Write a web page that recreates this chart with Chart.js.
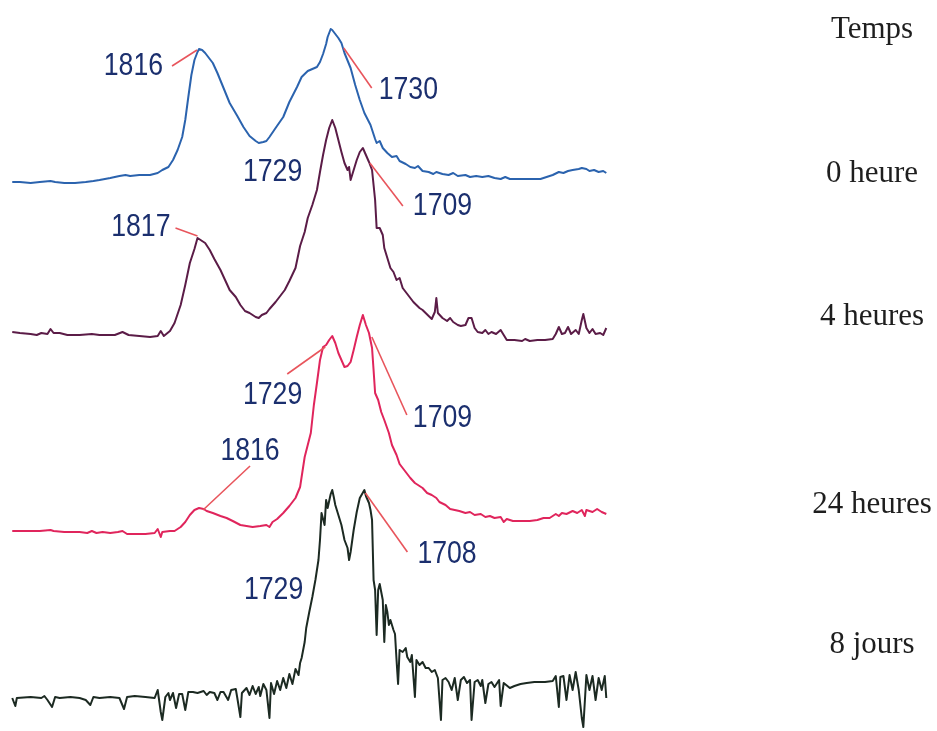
<!DOCTYPE html>
<html lang="fr">
<head>
<meta charset="utf-8">
<title>Spectres IR - évolution dans le temps</title>
<script src="https://cdn.jsdelivr.net/npm/chart.js@4.4.1/dist/chart.umd.min.js"></script>
<style>
  html, body { margin: 0; padding: 0; background: #ffffff; }
  #wrap { width: 937px; height: 731px; position: relative; }
  canvas { display: block; }
</style>
</head>
<body>
<div id="wrap"><canvas id="ir" width="937" height="731"></canvas></div>
<script>
// Spectres IR (zone carbonyle), nombre d'onde en cm-1 et absorbance relative (u.a.)
const wnRange = [1946, 1334];          // bornes de l'axe des nombres d'onde (décroissant)
const timeTitle = 'Temps';
const timeLabels = ['0 heure', '4 heures', '24 heures', '8 jours'];

const spec0h = [
  [1938,0.00],[1933,0.00],[1926,-0.01],[1920,0.00],[1913,0.01],[1910,0.00],[1904,-0.01],[1897,-0.01],
  [1890,0.00],[1885,0.01],[1881,0.02],[1874,0.04],[1868,0.06],[1864,0.07],[1861,0.06],[1855,0.07],
  [1848,0.07],[1843,0.09],[1840,0.12],[1836,0.15],[1833,0.22],[1830,0.32],[1827,0.45],[1825,0.62],
  [1823,0.85],[1821,1.07],[1819,1.22],[1817,1.30],[1816,1.33],[1814,1.32],[1812,1.29],[1810,1.25],
  [1807,1.19],[1804,1.09],[1800,0.94],[1796,0.79],[1791,0.66],[1787,0.55],[1783,0.46],[1779,0.41],
  [1777,0.39],[1774,0.40],[1772,0.41],[1770,0.45],[1766,0.54],[1761,0.65],[1757,0.80],[1752,0.95],
  [1749,1.05],[1745,1.11],[1742,1.13],[1739,1.15],[1737,1.20],[1735,1.28],[1733,1.38],[1732,1.45],
  [1730,1.53],[1729,1.52],[1727,1.48],[1725,1.44],[1723,1.39],[1721,1.29],[1717,1.14],[1714,0.97],
  [1711,0.82],[1708,0.69],[1704,0.57],[1701,0.43],[1700,0.39],[1698,0.41],[1696,0.34],[1693,0.29],
  [1690,0.25],[1687,0.26],[1685,0.21],[1681,0.18],[1678,0.15],[1675,0.14],[1673,0.16],[1670,0.11],
  [1666,0.10],[1663,0.08],[1661,0.10],[1657,0.08],[1653,0.07],[1650,0.09],[1647,0.06],[1642,0.07],
  [1639,0.05],[1635,0.06],[1631,0.05],[1627,0.06],[1623,0.04],[1619,0.03],[1616,0.05],[1613,0.03],
  [1606,0.03],[1600,0.03],[1593,0.03],[1589,0.05],[1585,0.07],[1581,0.10],[1578,0.09],[1575,0.11],
  [1572,0.12],[1568,0.13],[1566,0.14],[1563,0.13],[1561,0.11],[1558,0.12],[1555,0.10],[1552,0.11],
  [1550,0.09]
];

const spec4h = [
  [1938,0.03],[1933,0.02],[1926,0.01],[1922,0.00],[1919,0.02],[1915,0.01],[1913,0.06],[1911,0.02],
  [1907,0.02],[1902,0.00],[1894,0.00],[1886,0.01],[1881,0.00],[1871,0.00],[1866,0.03],[1862,0.00],
  [1855,-0.01],[1848,-0.02],[1843,-0.01],[1841,0.04],[1839,-0.01],[1835,0.04],[1832,0.12],[1828,0.30],
  [1825,0.50],[1822,0.72],[1819,0.86],[1817,0.97],[1815,0.95],[1812,0.92],[1809,0.85],[1806,0.76],
  [1802,0.65],[1799,0.55],[1796,0.45],[1792,0.38],[1789,0.30],[1786,0.24],[1783,0.22],[1779,0.18],
  [1777,0.17],[1775,0.20],[1772,0.22],[1770,0.26],[1766,0.33],[1763,0.39],[1760,0.45],[1757,0.54],
  [1753,0.67],[1750,0.89],[1747,1.03],[1745,1.17],[1742,1.30],[1739,1.45],[1737,1.63],[1735,1.80],
  [1733,1.95],[1731,2.07],[1729,2.15],[1727,2.07],[1725,1.95],[1723,1.83],[1721,1.72],[1719,1.65],
  [1718,1.68],[1717,1.55],[1715,1.65],[1713,1.75],[1711,1.83],[1709,1.87],[1707,1.80],[1705,1.73],
  [1703,1.65],[1701,1.35],[1700,1.07],[1698,1.07],[1696,1.00],[1695,0.87],[1693,0.77],[1691,0.67],
  [1689,0.63],[1687,0.55],[1685,0.57],[1683,0.47],[1680,0.41],[1678,0.37],[1676,0.33],[1674,0.30],
  [1672,0.27],[1670,0.25],[1668,0.22],[1666,0.19],[1664,0.16],[1662,0.23],[1661,0.37],[1660,0.22],
  [1657,0.17],[1654,0.14],[1652,0.17],[1650,0.13],[1647,0.10],[1645,0.09],[1642,0.10],[1640,0.17],
  [1638,0.17],[1636,0.07],[1634,0.03],[1631,0.02],[1629,0.05],[1627,0.01],[1625,0.03],[1622,0.01],
  [1619,0.05],[1617,0.00],[1615,-0.05],[1610,-0.05],[1605,-0.06],[1603,-0.04],[1600,-0.06],[1595,-0.05],
  [1590,-0.05],[1585,-0.04],[1583,0.01],[1581,0.08],[1579,0.01],[1577,0.02],[1575,0.08],[1573,0.01],
  [1570,0.05],[1568,0.01],[1566,0.15],[1565,0.21],[1563,0.07],[1561,0.02],[1559,0.06],[1557,0.01],
  [1554,0.02],[1552,0.00],[1550,0.07]
];

const spec24h = [
  [1938,0.00],[1930,0.00],[1920,0.00],[1913,0.01],[1911,0.00],[1904,-0.01],[1894,-0.01],[1889,-0.02],
  [1886,0.00],[1883,-0.02],[1879,-0.01],[1874,-0.02],[1869,-0.01],[1866,0.00],[1863,-0.03],[1858,-0.03],
  [1851,-0.03],[1845,-0.02],[1843,0.02],[1841,-0.06],[1840,-0.01],[1835,0.00],[1832,0.00],[1828,0.04],
  [1825,0.09],[1822,0.16],[1819,0.21],[1816,0.23],[1813,0.22],[1811,0.20],[1807,0.18],[1802,0.15],
  [1798,0.13],[1794,0.10],[1789,0.06],[1785,0.05],[1781,0.04],[1776,0.05],[1772,0.06],[1770,0.04],
  [1768,0.09],[1765,0.12],[1761,0.18],[1757,0.25],[1753,0.33],[1750,0.44],[1747,0.74],[1743,0.98],
  [1741,1.26],[1739,1.48],[1737,1.71],[1735,1.84],[1733,1.86],[1731,1.91],[1729,1.95],[1727,1.88],
  [1725,1.78],[1723,1.71],[1721,1.64],[1719,1.65],[1717,1.69],[1715,1.81],[1713,1.94],[1711,2.06],
  [1709,2.16],[1707,2.06],[1705,1.98],[1703,1.83],[1702,1.61],[1701,1.38],[1699,1.31],[1697,1.19],
  [1695,1.11],[1692,0.98],[1690,0.86],[1687,0.76],[1685,0.67],[1681,0.59],[1678,0.53],[1675,0.48],
  [1672,0.45],[1670,0.43],[1667,0.38],[1664,0.36],[1661,0.33],[1659,0.29],[1655,0.26],[1652,0.22],
  [1649,0.21],[1646,0.20],[1642,0.18],[1639,0.19],[1636,0.16],[1632,0.17],[1629,0.14],[1626,0.15],
  [1623,0.13],[1619,0.14],[1617,0.09],[1615,0.12],[1611,0.10],[1606,0.10],[1600,0.10],[1595,0.11],
  [1591,0.13],[1587,0.13],[1583,0.17],[1581,0.15],[1579,0.18],[1576,0.17],[1572,0.20],[1569,0.18],
  [1566,0.21],[1564,0.15],[1563,0.21],[1559,0.19],[1556,0.22],[1553,0.19],[1550,0.17]
];

const spec8j = [
  [1938,0.00],[1936,-0.08],[1935,0.00],[1926,0.01],[1919,0.00],[1917,0.02],[1915,-0.02],[1912,-0.09],
  [1910,0.01],[1907,0.00],[1900,0.01],[1894,0.00],[1890,-0.02],[1887,-0.07],[1885,0.01],[1881,0.00],
  [1874,0.01],[1868,0.00],[1865,-0.11],[1863,0.01],[1858,0.02],[1851,0.01],[1845,0.00],[1843,0.08],
  [1841,-0.14],[1840,-0.22],[1838,0.01],[1836,0.05],[1835,-0.02],[1833,0.05],[1831,-0.10],[1829,0.04],
  [1827,0.04],[1825,-0.12],[1823,0.06],[1820,0.06],[1817,0.05],[1813,0.07],[1811,0.03],[1809,0.06],
  [1806,0.05],[1804,-0.02],[1802,0.06],[1800,0.06],[1797,-0.02],[1795,0.08],[1792,0.09],[1791,0.00],
  [1789,-0.19],[1788,0.05],[1785,0.10],[1783,0.03],[1781,0.12],[1779,0.04],[1777,0.11],[1776,0.02],
  [1774,0.14],[1772,0.08],[1770,-0.20],[1769,0.15],[1767,0.04],[1765,0.17],[1763,0.08],[1761,0.20],
  [1759,0.10],[1757,0.24],[1755,0.14],[1753,0.29],[1751,0.23],[1750,0.35],[1749,0.40],[1747,0.56],
  [1746,0.70],[1744,0.86],[1742,1.01],[1740,1.18],[1738,1.38],[1737,1.58],[1736,1.85],[1734,1.73],
  [1733,1.98],[1732,1.90],[1730,2.04],[1729,2.08],[1728,2.01],[1727,1.93],[1725,1.83],[1723,1.73],
  [1721,1.58],[1719,1.50],[1718,1.38],[1717,1.46],[1715,1.68],[1713,1.86],[1711,2.00],[1708,2.08],
  [1707,2.02],[1705,1.95],[1704,1.88],[1703,1.78],[1702,1.18],[1701,1.08],[1700,0.63],[1699,1.08],
  [1698,1.14],[1696,0.98],[1695,0.56],[1694,0.93],[1693,0.86],[1692,0.73],[1691,0.78],[1689,0.68],
  [1688,0.64],[1687,0.38],[1686,0.14],[1685,0.48],[1683,0.46],[1681,0.50],[1680,0.41],[1678,0.36],
  [1677,0.43],[1675,0.01],[1674,0.38],[1672,0.33],[1670,0.36],[1668,0.30],[1666,0.30],[1664,0.26],
  [1662,0.28],[1660,0.20],[1658,-0.22],[1657,0.18],[1655,0.20],[1653,0.16],[1651,0.08],[1649,0.20],
  [1647,-0.02],[1645,0.18],[1643,0.21],[1641,0.15],[1639,0.18],[1638,-0.22],[1636,0.16],[1634,0.18],
  [1632,0.12],[1631,0.18],[1629,-0.05],[1627,0.14],[1625,0.16],[1623,0.11],[1620,0.18],[1619,-0.08],
  [1617,0.15],[1613,0.10],[1610,0.12],[1606,0.14],[1602,0.15],[1597,0.16],[1590,0.16],[1585,0.17],
  [1583,0.22],[1581,-0.09],[1580,0.21],[1578,0.22],[1576,-0.02],[1574,0.23],[1572,0.08],[1570,0.26],
  [1568,0.08],[1566,-0.20],[1565,-0.29],[1563,0.23],[1561,0.08],[1559,0.22],[1557,-0.02],[1555,0.20],
  [1553,0.08],[1551,0.22],[1550,0.00]
];

const spectra = [spec0h, spec4h, spec24h, spec8j];
const lineColors = ['#2b63ae', '#5b1c47', '#e0255c', '#1c2a22'];

// Position verticale de chaque spectre : ligne de base (px) et échelle commune
const chartHeight = 731;
const baselinePx = [182, 335, 531, 698];
const pxPerUnit = 100;

// Étiquettes des pics : nombre d'onde annoté, spectre concerné, renvoi et texte (décalages en px depuis le pic)
const peakNotes = [
  { wn: 1816, s: 0, lead: [[-2, 1], [-27, 17]], txt: [-36, 17.5], align: 'right' },
  { wn: 1730, s: 0, lead: [[13, 19], [41, 59]], txt: [48, 61], align: 'left' },
  { wn: 1729, s: 1, lead: null, txt: [-30, 52.5], align: 'right' },
  { wn: 1709, s: 1, lead: [[7, 15], [40, 58]], txt: [50, 58.5], align: 'left' },
  { wn: 1817, s: 1, lead: [[0, -2], [-22, -10]], txt: [-27, -11], align: 'right' },
  { wn: 1729, s: 2, lead: [[-7, 11], [-45, 38]], txt: [-30, 59], align: 'right' },
  { wn: 1709, s: 2, lead: [[9, 22], [44, 100]], txt: [50, 103.5], align: 'left' },
  { wn: 1816, s: 2, lead: [[4, 2], [51, -42]], txt: [51, -56.5], align: 'center' },
  { wn: 1729, s: 3, lead: null, txt: [-29, 100], align: 'right' },
  { wn: 1708, s: 3, lead: [[1, 3], [43, 62]], txt: [53, 64], align: 'left' }
];
const noteFont = '31px "Liberation Sans", Arial, sans-serif';
const noteStretch = 0.86;   // chiffres étroits

// Titres des lignes à droite (position de la ligne de base du texte)
const timeLabelX = 872;
const timeLabelBase = [38, 182, 325, 513, 653];

const scales = {
  x: { type: 'linear', reverse: true, min: wnRange[1], max: wnRange[0], display: false }
};
spectra.forEach((_, i) => {
  scales['y' + i] = {
    type: 'linear',
    display: false,
    max: baselinePx[i] / pxPerUnit,
    min: (baselinePx[i] - chartHeight) / pxPerUnit
  };
});

const datasets = spectra.map((spec, i) => ({
  label: timeLabels[i],
  data: spec.map(p => ({ x: p[0], y: p[1] })),
  yAxisID: 'y' + i,
  borderColor: lineColors[i],
  borderWidth: 2,
  pointRadius: 0,
  tension: 0,
  fill: false
}));

const annotate = {
  id: 'annotate',
  afterDatasetsDraw(chart) {
    const ctx = chart.ctx;
    const xs = chart.scales.x;
    ctx.save();
    peakNotes.forEach(n => {
      const spec = spectra[n.s];
      const pt = spec.find(p => p[0] === n.wn);
      const px = xs.getPixelForValue(n.wn);
      const py = chart.scales['y' + n.s].getPixelForValue(pt ? pt[1] : 0);
      if (n.lead) {
        ctx.beginPath();
        ctx.strokeStyle = '#e8555c';
        ctx.lineWidth = 1.6;
        ctx.moveTo(px + n.lead[0][0], py + n.lead[0][1]);
        ctx.lineTo(px + n.lead[1][0], py + n.lead[1][1]);
        ctx.stroke();
      }
      ctx.save();
      ctx.translate(px + n.txt[0], py + n.txt[1]);
      ctx.scale(noteStretch, 1);
      ctx.font = noteFont;
      ctx.fillStyle = '#1b2f6e';
      ctx.textAlign = n.align;
      ctx.textBaseline = 'middle';
      ctx.fillText(String(n.wn), 0, 0);
      ctx.restore();
    });
    ctx.font = '31px "Liberation Serif", "Times New Roman", serif';
    ctx.fillStyle = '#1e1e1e';
    ctx.textAlign = 'center';
    ctx.textBaseline = 'alphabetic';
    [timeTitle].concat(timeLabels).forEach((t, i) => {
      ctx.fillText(t, timeLabelX, timeLabelBase[i]);
    });
    ctx.restore();
  }
};

new Chart(document.getElementById('ir'), {
  type: 'line',
  data: { datasets },
  options: {
    responsive: false,
    animation: false,
    layout: { padding: 0 },
    scales,
    plugins: { legend: { display: false }, tooltip: { enabled: false } },
    elements: { line: { borderJoinStyle: 'round' } }
  },
  plugins: [annotate]
});
</script>
</body>
</html>
